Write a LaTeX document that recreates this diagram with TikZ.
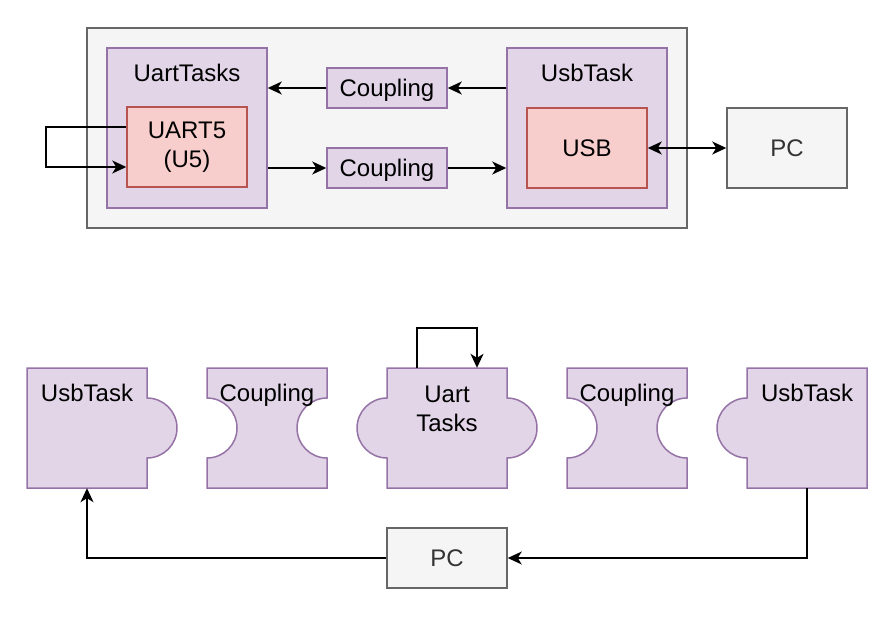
\documentclass[tikz,border=0pt]{standalone}
\usepackage{fontspec}
\setmainfont{Liberation Sans}
\usetikzlibrary{arrows.meta,calc}
\definecolor{pfill}{HTML}{E1D5E7}
\definecolor{pdraw}{HTML}{9673A6}
\definecolor{rfill}{HTML}{F8CECC}
\definecolor{rdraw}{HTML}{B85450}
\definecolor{gfill}{HTML}{F5F5F5}
\definecolor{gdraw}{HTML}{666666}
\definecolor{gtext}{HTML}{333333}
\tikzset{
  every node/.style={font=\fontsize{24}{29}\selectfont, inner sep=0pt, text height=22pt, text depth=5pt},
  multi/.style={text height=, text depth=, align=center},
  purplebox/.style={draw=pdraw, fill=pfill, line width=1.5pt},
  redbox/.style={draw=rdraw, fill=rfill, line width=1.5pt},
  graybox/.style={draw=gdraw, fill=gfill, line width=1.5pt, text=gtext},
  piece/.style={draw=pdraw, fill=pfill, line width=1.5pt},
  body/.style={draw=none, minimum width=120pt, minimum height=120pt},
  arr/.style={draw=black, line width=1.6pt, -{Stealth[length=14pt,width=13pt,inset=4pt]}},
  darr/.style={draw=black, line width=1.6pt, {Stealth[length=14pt,width=13pt,inset=4pt]}-{Stealth[length=14pt,width=13pt,inset=4pt]}}
}
\begin{document}
\begin{tikzpicture}[x=1pt,y=1pt]
\useasboundingbox (0,0) rectangle (890,-616);
% ---------- top diagram ----------
\node[graybox, minimum width=600pt, minimum height=200pt] (outer) at (387,-128) {};
\node[purplebox, minimum width=160pt, minimum height=160pt] (ut) at (187,-128) {};
\node (utl) at (187,-73) {UartTasks};
\node[redbox, minimum width=120pt, minimum height=80pt, multi] (u5) at (187,-147) {UART5\\(U5)};
\node[purplebox, minimum width=160pt, minimum height=160pt] (ust) at (587,-128) {};
\node (ustl) at (587,-73) {UsbTask};
\node[redbox, minimum width=120pt, minimum height=80pt] (usb) at (587,-148) {USB};
\node[purplebox, minimum width=120pt, minimum height=40pt] (c1) at (387,-88) {Coupling};
\node[purplebox, minimum width=120pt, minimum height=40pt] (c2) at (387,-168) {Coupling};
\node[graybox, minimum width=120pt, minimum height=80pt] (pc) at (787,-148) {PC};
\draw[arr] (c1.west) -- (c1.west -| ut.east);
\draw[arr] (c1.east -| ust.west) -- (c1.east);
\draw[arr] (c2.west -| ut.east) -- (c2.west);
\draw[arr] (c2.east) -- (c2.east -| ust.west);
\draw[darr] (usb.east) -- (pc.west);
\draw[arr] ([yshift=20pt]u5.west) -- ++(-80,0) |- ([yshift=-20pt]u5.west);
% ---------- bottom diagram ----------
\draw[piece] (27,-368) -- (147,-368) -- (147,-398) arc[start angle=90,end angle=-90,radius=30] -- (147,-488) -- (27,-488) -- cycle;
\draw[piece] (207,-368) -- (327,-368) -- (327,-398) arc[start angle=90,end angle=270,radius=30] -- (327,-488) -- (207,-488) -- (207,-458) arc[start angle=-90,end angle=90,radius=30] -- cycle;
\draw[piece] (387,-368) -- (507,-368) -- (507,-398) arc[start angle=90,end angle=-90,radius=30] -- (507,-488) -- (387,-488) -- (387,-458) arc[start angle=270,end angle=90,radius=30] -- cycle;
\draw[piece] (567,-368) -- (687,-368) -- (687,-398) arc[start angle=90,end angle=270,radius=30] -- (687,-488) -- (567,-488) -- (567,-458) arc[start angle=-90,end angle=90,radius=30] -- cycle;
\draw[piece] (747,-368) -- (867,-368) -- (867,-488) -- (747,-488) -- (747,-458) arc[start angle=270,end angle=90,radius=30] -- cycle;
\node[body] (p1) at (87,-428) {};
\node[body] (p2) at (267,-428) {};
\node[body] (p3) at (447,-428) {};
\node[body] (p4) at (627,-428) {};
\node[body] (p5) at (807,-428) {};
\node (l1) at (87,-393) {UsbTask};
\node (l2) at (267,-393) {Coupling};
\node[multi] (l3) at (447,-409) {Uart\\Tasks};
\node (l4) at (627,-393) {Coupling};
\node (l5) at (807,-393) {UsbTask};
\node[graybox, minimum width=120pt, minimum height=60pt] (pc2) at (447,-558) {PC};
\draw[arr] ([xshift=-30pt]p3.north) -- ++(0,40) -| ([xshift=30pt]p3.north);
\draw[arr] (p5.south) |- (pc2.east);
\draw[arr] (pc2.west) -| (p1.south);
\end{tikzpicture}
\end{document}
